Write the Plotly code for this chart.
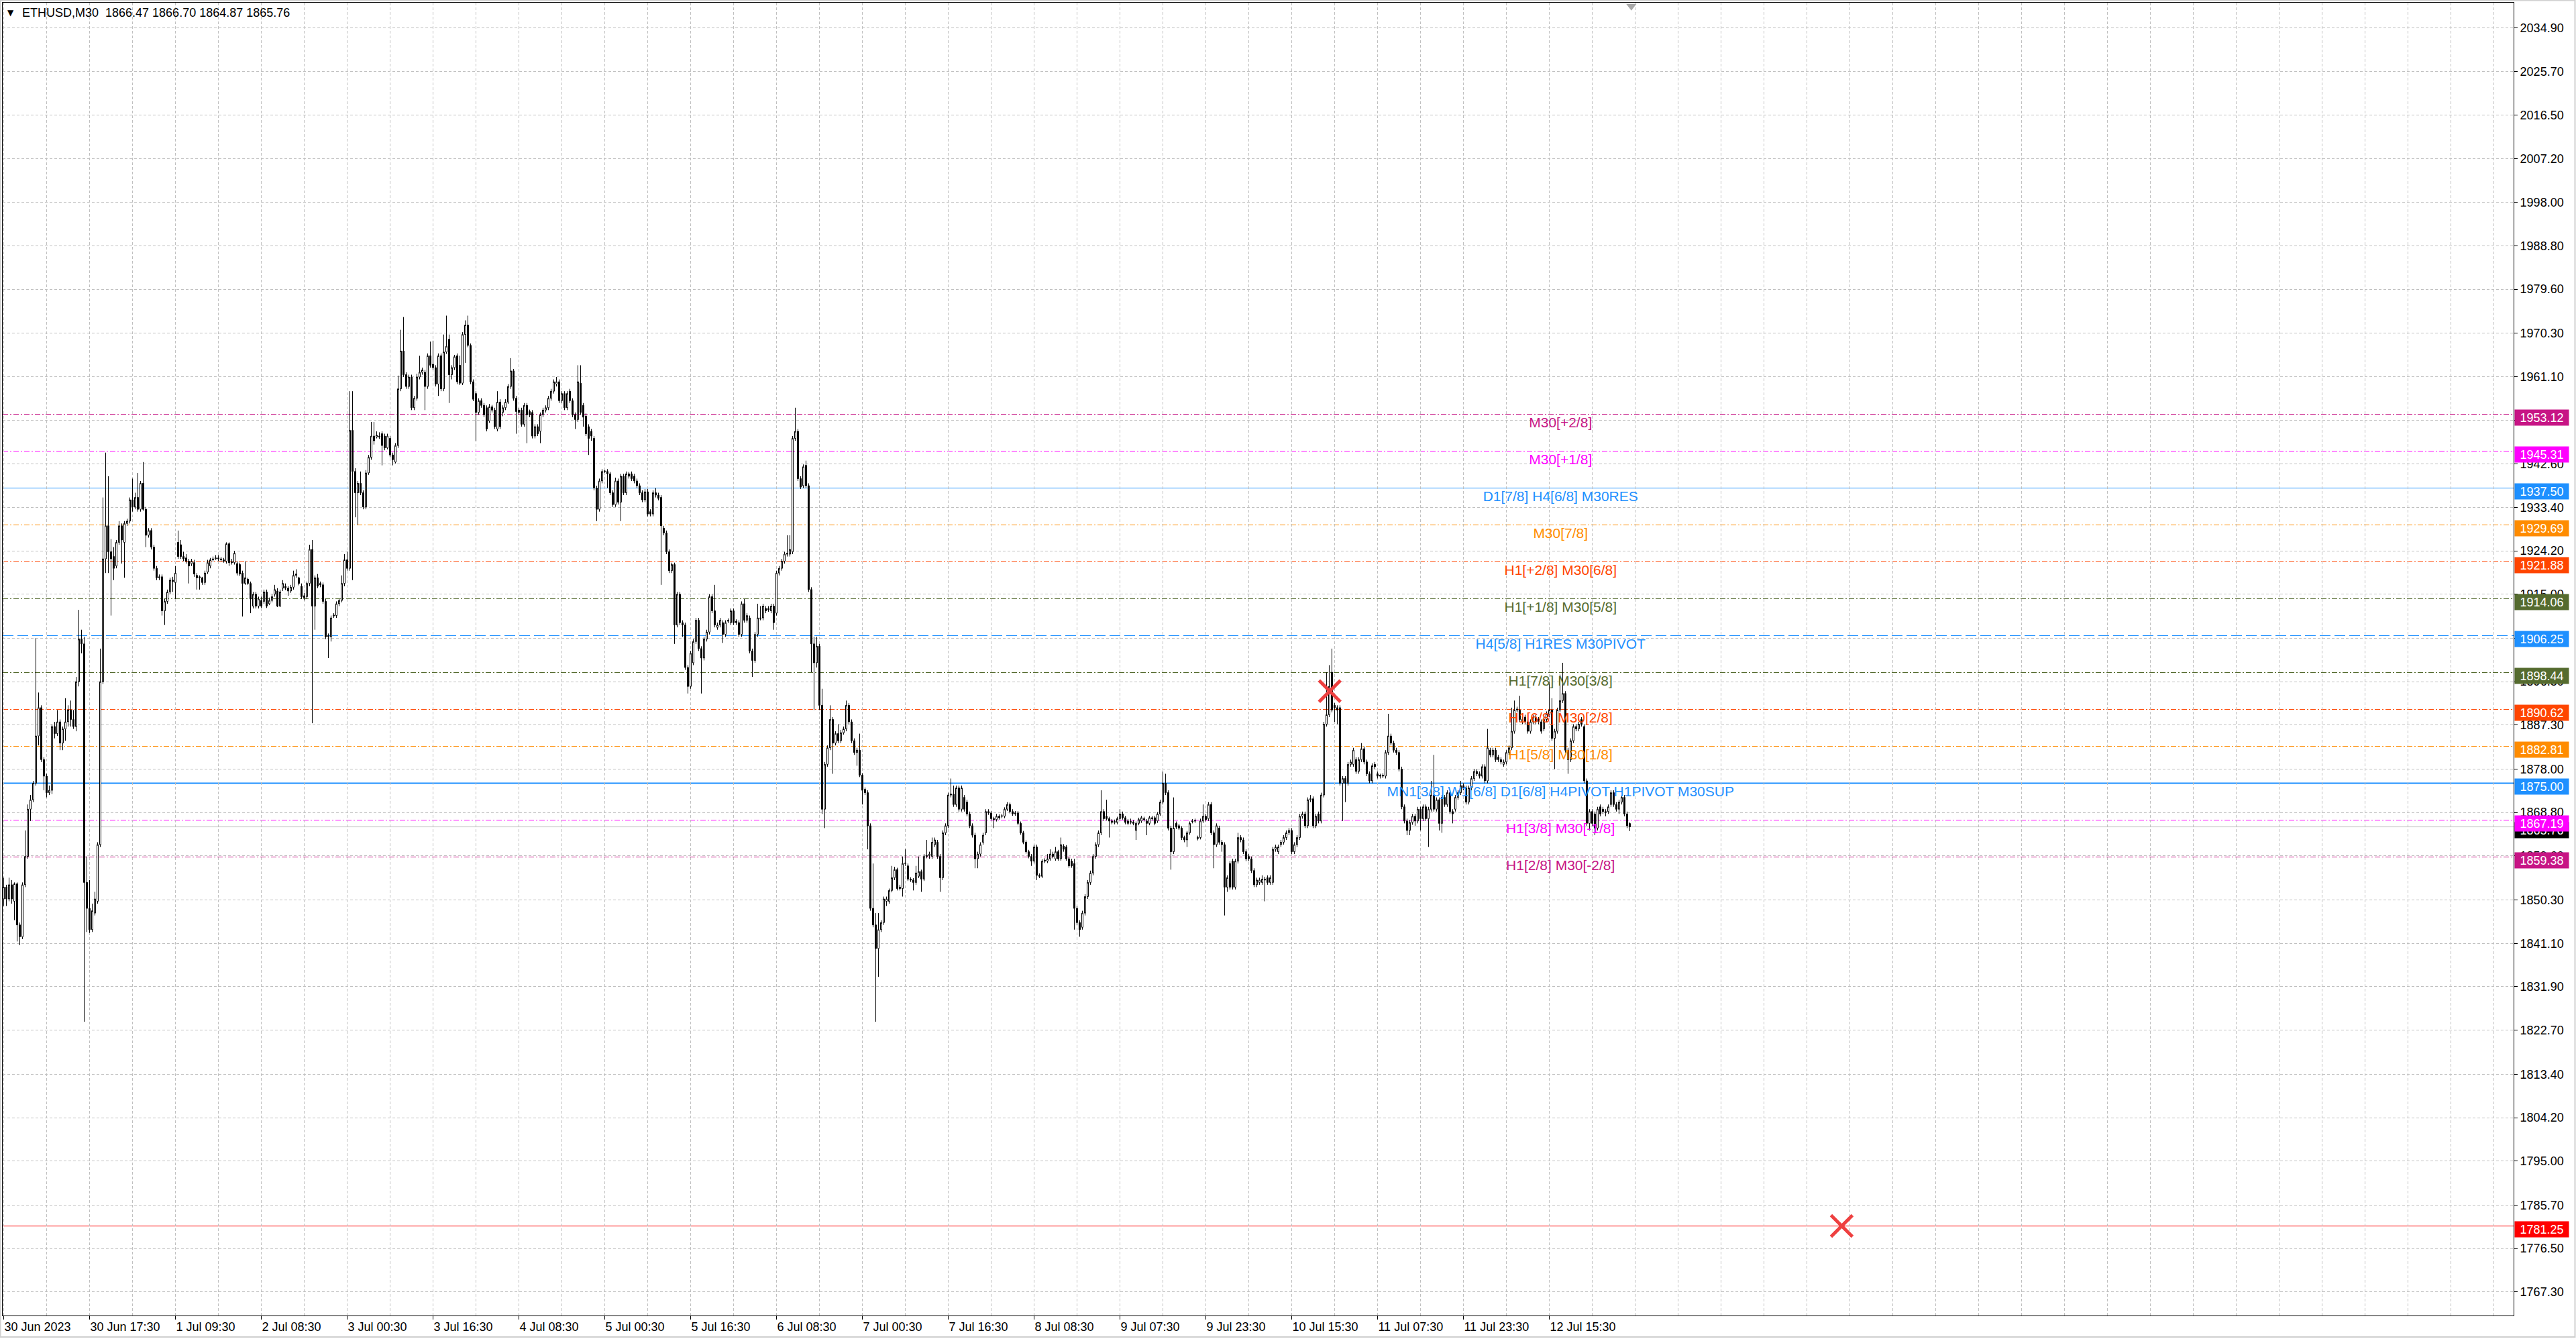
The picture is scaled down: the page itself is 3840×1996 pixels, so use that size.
import plotly.graph_objects as go

# ---------------- data (ETHUSD M30 candles) ----------------
bar_open = [
1850.5, 1853.0, 1850.5, 1853.5, 1850.0, 1853.7, 1845.0, 1842.5, 1853.5, 1859.5,
1869.5, 1871.5, 1875.0, 1885.0, 1891.0, 1880.0, 1876.5, 1873.0, 1873.5, 1887.0,
1885.5, 1888.0, 1883.5, 1886.5, 1888.0, 1890.5, 1888.5, 1887.0, 1896.5, 1905.5,
1904.5, 1854.0, 1848.5, 1844.0, 1847.5, 1850.0, 1862.0, 1896.5, 1922.5, 1929.5,
1924.0, 1923.0, 1921.0, 1926.0, 1929.5, 1926.0, 1930.0, 1930.5, 1935.0, 1933.5,
1935.5, 1933.0, 1938.5, 1933.0, 1927.5, 1928.5, 1925.0, 1920.5, 1918.5, 1918.7,
1911.5, 1913.5, 1915.5, 1918.0, 1917.5, 1926.0, 1925.5, 1923.0, 1922.7, 1922.0,
1921.5, 1921.7, 1919.0, 1918.7, 1918.5, 1917.5, 1919.7, 1921.0, 1922.3, 1922.5,
1922.7, 1922.5, 1922.3, 1922.0, 1925.7, 1921.9, 1921.7, 1921.5, 1921.3, 1919.5,
1917.3, 1918.2, 1917.3, 1912.5, 1915.0, 1912.5, 1913.7, 1913.5, 1915.5, 1913.0,
1913.7, 1915.0, 1915.7, 1912.5, 1916.3, 1916.7, 1916.3, 1915.7, 1916.5, 1919.0,
1918.5, 1916.7, 1914.7, 1914.5, 1917.3, 1924.5, 1912.5, 1918.5, 1917.3, 1917.0,
1913.5, 1906.3, 1906.0, 1910.4, 1910.5, 1913.0, 1913.7, 1917.3, 1922.3, 1920.5,
1949.7, 1941.0, 1936.5, 1938.5, 1936.5, 1933.5, 1940.7, 1944.0, 1948.5, 1948.3,
1948.5, 1949.0, 1948.5, 1946.0, 1948.0, 1944.5, 1943.0, 1946.5, 1958.5,
1966.5, 1961.5, 1959.0, 1961.0, 1954.5, 1956.5, 1961.0, 1962.0, 1962.0, 1959.0,
1965.5, 1963.7, 1963.0, 1959.5, 1965.5, 1958.5, 1966.3, 1969.0, 1961.5, 1963.0,
1965.5, 1963.5, 1959.7, 1970.0, 1972.0, 1967.7, 1960.0, 1957.5, 1953.5, 1956.0,
1955.0, 1954.5, 1951.7, 1954.7, 1954.0, 1950.0, 1955.7, 1953.5, 1954.5, 1955.7,
1959.0, 1962.3, 1956.5, 1954.0, 1954.0, 1951.0, 1955.0, 1953.7, 1953.5, 1948.5,
1950.5, 1949.5, 1953.0, 1954.0, 1954.5, 1956.5, 1958.0, 1959.5, 1960.0, 1956.0,
1957.5, 1954.5, 1958.0, 1956.0, 1953.0, 1952.0, 1959.7, 1955.0, 1952.7, 1950.5,
1949.5, 1948.0, 1937.5, 1933.0, 1939.0, 1941.0, 1941.0, 1940.5, 1936.5, 1934.0,
1939.0, 1934.5, 1940.0, 1936.5, 1940.5, 1940.5, 1940.0, 1939.0, 1938.0, 1936.5,
1935.0, 1936.7, 1932.5, 1932.0, 1936.5, 1936.0, 1935.5, 1929.0, 1928.0, 1924.0,
1920.0, 1921.3, 1908.5, 1915.0, 1909.0, 1908.5, 1899.5, 1895.5, 1900.5, 1905.0,
1909.5, 1903.5, 1901.5, 1905.5, 1907.0, 1914.5, 1911.5, 1908.0, 1908.5, 1909.0,
1906.5, 1909.5, 1909.0, 1911.5, 1909.3, 1909.0, 1906.5, 1913.0, 1909.5, 1910.0,
1903.0, 1901.0, 1906.5, 1910.0, 1910.0, 1912.0, 1912.0, 1911.5, 1912.5, 1911.0,
1919.5, 1920.5, 1922.0, 1923.7, 1923.5, 1924.0, 1948.0, 1949.5, 1939.5, 1938.0,
1942.3, 1938.0, 1916.0, 1904.5, 1900.5, 1904.0, 1891.5, 1869.5, 1879.0, 1882.5,
1888.5, 1883.5, 1885.5, 1884.0, 1885.7, 1886.5, 1891.5, 1888.0, 1884.0, 1881.5,
1882.0, 1876.7, 1873.7, 1873.0, 1866.0, 1848.5, 1845.0, 1840.0, 1844.0, 1845.5,
1850.0, 1850.0, 1852.3, 1855.0, 1856.7, 1853.0, 1852.7, 1858.0, 1857.5, 1854.7,
1854.5, 1854.0, 1855.3, 1856.3, 1854.7, 1859.5, 1859.7, 1859.5, 1862.0, 1862.5,
1859.5, 1855.0, 1864.5, 1866.0, 1872.5, 1872.7, 1870.5, 1874.0, 1869.5, 1872.0,
1871.0, 1868.5, 1866.0, 1864.0, 1859.0, 1860.0, 1862.5, 1864.5, 1869.0, 1868.7,
1867.5, 1867.3, 1868.0, 1868.0, 1868.0, 1869.5, 1870.5, 1869.0, 1868.5, 1868.7,
1866.5, 1864.5, 1862.5, 1860.5, 1859.5, 1858.5, 1861.5, 1855.5, 1855.3, 1858.7,
1858.5, 1859.0, 1860.0, 1859.0, 1860.5, 1859.0, 1861.7, 1861.5, 1859.0, 1858.5,
1858.0, 1848.5, 1845.5, 1844.5, 1847.5, 1851.0, 1854.0, 1856.0, 1859.5, 1862.0,
1864.5, 1869.0, 1868.0, 1867.5, 1867.0, 1866.7, 1866.7, 1867.5, 1868.5, 1867.7,
1867.0, 1866.7, 1866.8, 1865.0, 1866.5, 1867.0, 1867.5, 1867.0, 1866.5, 1867.7,
1867.7, 1867.0, 1868.5, 1871.0, 1875.0, 1873.0, 1865.5, 1860.5, 1866.5, 1866.0,
1865.5, 1863.5, 1863.0, 1864.5, 1867.0, 1867.1, 1863.5, 1863.5, 1867.0, 1868.0,
1867.5, 1870.5, 1864.5, 1862.0, 1865.5, 1862.5, 1862.0, 1853.0, 1858.0, 1858.5,
1853.0, 1858.5, 1863.5, 1863.0, 1860.5, 1859.5, 1859.0, 1856.5, 1853.5, 1854.0,
1854.0, 1854.5, 1855.0, 1854.0, 1854.0, 1861.0, 1860.5, 1862.0, 1862.5, 1863.5,
1864.5, 1865.0, 1860.5, 1862.0, 1863.5, 1868.0, 1868.5, 1866.0, 1871.5, 1871.7,
1866.0, 1868.5, 1867.0, 1872.5, 1887.5, 1889.5, 1898.5, 1891.5, 1891.0, 1891.0,
1875.0, 1876.0, 1875.0, 1879.0, 1879.0, 1880.0, 1877.5, 1880.0, 1882.3, 1879.5,
1877.0, 1875.5, 1879.0, 1877.0, 1876.7, 1876.5, 1876.5, 1881.5, 1885.0, 1883.5,
1882.0, 1881.5, 1878.0, 1870.0, 1867.0, 1865.0, 1866.7, 1868.0, 1867.0, 1869.5,
1867.5, 1870.0, 1867.5, 1869.5, 1872.5, 1869.5, 1871.5, 1866.5, 1872.0, 1870.5,
1873.0, 1869.0, 1869.5, 1872.0, 1873.0, 1874.5, 1874.0, 1871.0, 1874.0, 1876.0,
1877.5, 1877.0, 1876.5, 1878.5, 1875.5, 1882.0, 1881.0, 1882.0, 1880.5, 1880.0,
1879.0, 1879.5, 1881.5, 1882.5, 1886.0, 1890.5, 1890.5, 1888.5, 1889.0, 1888.0,
1886.0, 1888.0, 1889.0, 1888.5, 1888.0, 1886.5, 1888.5, 1889.5, 1890.5, 1884.5,
1886.0, 1890.5, 1892.5, 1894.0, 1882.0, 1880.0, 1884.0, 1887.0, 1886.5, 1888.5,
1887.0, 1875.5, 1866.5, 1869.0, 1868.5, 1865.5, 1870.0, 1869.5, 1869.0, 1869.0,
1870.5, 1873.0, 1870.5, 1869.5, 1871.0, 1872.0, 1868.5, 1866.47,
]

bar_high = [
1855.0, 1853.5, 1855.0, 1854.5, 1854.0, 1854.0, 1845.5, 1854.0, 1865.0, 1870.5,
1872.5, 1875.5, 1905.7, 1894.2, 1891.5, 1880.5, 1877.0, 1874.5, 1887.5, 1888.0,
1890.5, 1888.5, 1887.0, 1893.0, 1891.5, 1892.5, 1890.5, 1897.5, 1911.7, 1907.5,
1906.0, 1859.5, 1854.5, 1849.5, 1852.0, 1862.5, 1903.5, 1935.5, 1945.0, 1940.0,
1926.7, 1925.0, 1926.5, 1930.5, 1930.0, 1930.5, 1931.0, 1935.5, 1939.5, 1936.5,
1940.7, 1939.0, 1943.0, 1933.5, 1929.0, 1929.0, 1925.5, 1921.0, 1919.2, 1919.2,
1914.0, 1916.0, 1918.5, 1918.7, 1921.0, 1928.5, 1926.5, 1924.0, 1923.5, 1922.5,
1922.5, 1922.3, 1919.5, 1919.0, 1918.7, 1920.0, 1922.3, 1922.7, 1923.0, 1923.3,
1923.3, 1922.9, 1922.7, 1926.0, 1926.0, 1922.5, 1924.2, 1922.0, 1921.7, 1920.0,
1922.0, 1918.5, 1917.7, 1915.5, 1915.5, 1914.5, 1914.5, 1916.0, 1916.0, 1914.3,
1915.0, 1917.0, 1916.3, 1916.0, 1918.0, 1917.3, 1916.7, 1917.0, 1920.0, 1920.3,
1918.7, 1917.3, 1915.3, 1917.7, 1925.5, 1926.5, 1919.0, 1919.3, 1917.7, 1917.5,
1914.0, 1906.7, 1910.5, 1911.0, 1913.5, 1914.0, 1919.0, 1923.5, 1924.0, 1958.0,
1958.0, 1941.7, 1939.0, 1941.0, 1937.0, 1941.3, 1944.5, 1951.5, 1951.5, 1949.5,
1949.3, 1949.5, 1949.0, 1949.0, 1948.5, 1945.0, 1947.0, 1961.3, 1971.0,
1973.7, 1962.0, 1961.5, 1961.5, 1957.0, 1961.7, 1965.5, 1963.0, 1962.5, 1966.0,
1968.5, 1968.7, 1963.5, 1966.0, 1966.0, 1970.0, 1974.0, 1970.0, 1963.5, 1965.7,
1966.0, 1965.5, 1970.5, 1973.0, 1974.0, 1968.1, 1960.5, 1958.0, 1956.5, 1956.5,
1955.5, 1955.0, 1955.3, 1955.1, 1954.5, 1958.0, 1956.3, 1955.0, 1956.3, 1959.5,
1965.0, 1962.7, 1957.0, 1954.5, 1954.5, 1955.5, 1955.5, 1954.1, 1954.0, 1951.0,
1951.0, 1953.5, 1954.5, 1955.0, 1957.0, 1958.5, 1960.5, 1961.0, 1960.5, 1958.0,
1958.0, 1958.0, 1958.5, 1956.5, 1953.5, 1963.5, 1963.5, 1955.5, 1953.3, 1951.0,
1950.0, 1948.5, 1938.0, 1939.5, 1941.5, 1941.3, 1941.5, 1940.9, 1937.0, 1939.7,
1939.5, 1940.5, 1940.5, 1941.0, 1940.9, 1941.0, 1940.5, 1939.5, 1938.5, 1937.0,
1937.3, 1937.3, 1933.0, 1937.0, 1937.5, 1936.5, 1936.0, 1929.5, 1928.5, 1924.5,
1921.7, 1921.7, 1915.5, 1915.5, 1909.5, 1909.0, 1900.0, 1903.0, 1905.5, 1910.0,
1910.0, 1904.0, 1906.0, 1907.5, 1915.0, 1915.0, 1917.0, 1909.0, 1910.0, 1909.5,
1909.5, 1909.9, 1912.0, 1912.0, 1909.7, 1909.5, 1913.5, 1914.0, 1911.0, 1910.5,
1903.5, 1907.0, 1913.0, 1912.5, 1913.0, 1912.5, 1912.5, 1913.0, 1913.0, 1920.0,
1921.0, 1922.5, 1924.0, 1927.5, 1927.5, 1948.5, 1954.5, 1950.0, 1940.0, 1942.5,
1943.3, 1938.5, 1916.5, 1906.0, 1906.0, 1904.5, 1895.0, 1879.5, 1883.0, 1891.5,
1889.0, 1886.0, 1887.5, 1886.3, 1887.0, 1892.5, 1892.0, 1888.5, 1884.5, 1882.5,
1885.5, 1877.1, 1874.1, 1873.5, 1866.5, 1858.0, 1847.5, 1847.5, 1846.0, 1851.0,
1851.0, 1852.7, 1857.5, 1857.3, 1857.1, 1853.5, 1859.5, 1861.0, 1858.0, 1855.1,
1854.9, 1857.5, 1859.5, 1856.7, 1860.0, 1863.0, 1860.5, 1863.5, 1863.5, 1863.0,
1860.0, 1865.0, 1866.5, 1873.0, 1876.0, 1874.5, 1874.5, 1874.5, 1874.5, 1872.5,
1871.5, 1869.0, 1866.5, 1864.5, 1860.5, 1862.5, 1864.5, 1869.5, 1869.5, 1869.1,
1867.9, 1868.5, 1868.4, 1868.5, 1869.9, 1871.0, 1870.9, 1869.5, 1869.1, 1869.1,
1866.9, 1864.9, 1862.9, 1860.9, 1860.0, 1862.0, 1862.0, 1855.9, 1858.9, 1859.1,
1860.0, 1861.0, 1860.5, 1861.5, 1860.9, 1863.5, 1862.1, 1861.9, 1859.4, 1859.0,
1859.0, 1849.0, 1846.0, 1848.0, 1851.5, 1854.5, 1856.5, 1860.0, 1862.5, 1865.0,
1873.5, 1869.5, 1871.5, 1867.9, 1867.4, 1867.3, 1867.9, 1869.5, 1869.0, 1868.1,
1867.4, 1867.5, 1867.2, 1866.9, 1867.7, 1868.1, 1867.9, 1867.4, 1868.1, 1868.1,
1868.1, 1868.9, 1871.5, 1877.5, 1877.0, 1873.5, 1866.0, 1872.0, 1866.9, 1866.4,
1865.9, 1863.9, 1864.9, 1866.9, 1867.4, 1867.5, 1863.9, 1867.5, 1870.5, 1868.5,
1871.0, 1871.0, 1865.0, 1866.5, 1866.0, 1863.0, 1862.5, 1855.5, 1858.5, 1859.0,
1859.0, 1864.5, 1864.0, 1863.5, 1861.0, 1860.0, 1859.5, 1857.0, 1855.0, 1855.0,
1855.5, 1855.2, 1855.5, 1855.5, 1861.5, 1862.0, 1862.0, 1863.0, 1864.0, 1865.0,
1865.5, 1865.5, 1862.5, 1864.0, 1868.5, 1869.0, 1869.0, 1872.0, 1872.5, 1872.2,
1868.5, 1869.0, 1873.0, 1888.0, 1898.5, 1900.0, 1903.5, 1892.0, 1891.5, 1891.5,
1876.5, 1876.5, 1879.5, 1880.0, 1882.5, 1880.5, 1880.5, 1883.5, 1882.8, 1880.0,
1877.5, 1879.2, 1879.5, 1877.5, 1877.0, 1877.1, 1882.0, 1889.7, 1885.5, 1884.0,
1882.5, 1882.0, 1878.5, 1870.5, 1867.5, 1867.2, 1868.5, 1868.5, 1870.0, 1870.0,
1870.5, 1870.5, 1870.0, 1875.5, 1881.0, 1872.0, 1872.0, 1872.5, 1872.5, 1873.5,
1873.5, 1869.5, 1872.5, 1873.5, 1875.5, 1875.0, 1874.5, 1874.5, 1876.5, 1878.0,
1878.0, 1877.5, 1879.0, 1879.0, 1886.5, 1882.5, 1882.5, 1882.5, 1881.0, 1880.5,
1880.0, 1882.0, 1883.0, 1891.0, 1892.5, 1891.2, 1893.5, 1889.0, 1889.5, 1888.5,
1888.5, 1889.5, 1889.5, 1889.0, 1888.5, 1889.0, 1890.2, 1896.5, 1893.0, 1886.5,
1891.0, 1898.0, 1900.5, 1894.5, 1882.5, 1884.5, 1887.5, 1887.5, 1888.0, 1889.0,
1887.5, 1876.0, 1869.5, 1869.5, 1869.0, 1870.0, 1870.5, 1870.0, 1869.5, 1870.5,
1873.5, 1873.5, 1871.0, 1871.5, 1872.5, 1872.5, 1869.0, 1866.70,
]

bar_low = [
1849.0, 1849.0, 1850.0, 1849.5, 1846.0, 1841.5, 1840.7, 1842.0, 1853.0, 1859.0,
1867.0, 1871.0, 1874.5, 1883.0, 1879.5, 1873.5, 1872.0, 1872.5, 1872.7, 1884.5,
1885.0, 1882.0, 1882.0, 1884.0, 1887.0, 1887.0, 1886.5, 1886.0, 1895.5, 1902.5,
1824.5, 1843.5, 1843.3, 1843.5, 1847.0, 1849.5, 1861.5, 1896.0, 1919.5, 1919.5,
1910.5, 1918.0, 1920.5, 1925.5, 1921.5, 1918.5, 1929.5, 1930.0, 1932.5, 1933.0,
1932.5, 1932.5, 1932.7, 1925.0, 1927.0, 1924.5, 1920.0, 1918.0, 1918.0, 1910.5,
1908.5, 1913.0, 1915.0, 1915.5, 1914.0, 1922.5, 1922.5, 1922.0, 1921.5, 1917.3,
1921.0, 1918.7, 1916.0, 1916.0, 1917.0, 1917.0, 1919.3, 1920.5, 1921.9, 1922.3,
1922.0, 1921.9, 1921.7, 1921.5, 1921.0, 1921.3, 1921.3, 1919.0, 1918.9, 1910.3,
1917.0, 1917.0, 1911.0, 1912.0, 1912.0, 1912.0, 1912.1, 1913.0, 1912.1, 1912.7,
1913.3, 1914.5, 1912.3, 1912.3, 1915.7, 1915.9, 1914.7, 1915.3, 1916.0, 1918.5,
1916.9, 1914.0, 1913.7, 1914.0, 1916.7, 1887.7, 1907.5, 1916.3, 1916.5, 1913.0,
1905.5, 1901.5, 1905.0, 1910.0, 1910.0, 1912.5, 1913.3, 1916.7, 1920.0, 1920.0,
1918.0, 1931.3, 1929.7, 1936.0, 1933.0, 1933.0, 1940.3, 1943.5, 1946.7, 1948.0,
1947.9, 1942.3, 1945.5, 1945.7, 1944.0, 1942.3, 1942.7, 1946.0, 1958.0,
1961.0, 1958.5, 1958.5, 1954.0, 1954.0, 1956.0, 1960.5, 1961.5, 1954.0, 1958.5,
1963.0, 1962.5, 1959.0, 1957.0, 1958.0, 1958.0, 1965.9, 1955.5, 1960.5, 1962.5,
1959.5, 1959.3, 1959.3, 1964.0, 1967.3, 1959.5, 1955.9, 1947.5, 1953.0, 1954.5,
1952.5, 1949.5, 1951.3, 1953.5, 1950.0, 1949.5, 1950.0, 1952.7, 1954.0, 1955.3,
1958.5, 1956.0, 1949.0, 1953.0, 1950.5, 1950.5, 1947.0, 1952.5, 1948.0, 1948.0,
1948.5, 1947.0, 1952.5, 1953.5, 1954.0, 1956.0, 1957.5, 1959.0, 1955.5, 1955.5,
1954.0, 1954.0, 1955.5, 1952.5, 1950.0, 1951.5, 1953.0, 1950.5, 1948.5, 1944.5,
1947.5, 1937.0, 1930.5, 1932.5, 1938.5, 1940.7, 1937.5, 1936.0, 1933.5, 1933.5,
1934.0, 1930.5, 1936.0, 1936.0, 1939.5, 1939.0, 1938.5, 1937.5, 1936.0, 1934.5,
1934.5, 1931.5, 1931.5, 1931.5, 1935.5, 1934.9, 1917.0, 1927.5, 1923.5, 1919.5,
1919.5, 1904.5, 1908.0, 1908.5, 1906.0, 1899.0, 1894.0, 1895.0, 1900.0, 1904.5,
1903.0, 1894.0, 1901.0, 1905.0, 1906.5, 1911.0, 1908.0, 1907.5, 1908.0, 1904.7,
1906.0, 1908.9, 1908.5, 1908.5, 1908.5, 1906.0, 1906.0, 1909.0, 1909.0, 1902.5,
1897.5, 1900.5, 1906.0, 1909.5, 1909.5, 1911.0, 1911.3, 1911.0, 1907.5, 1910.5,
1919.0, 1920.0, 1921.5, 1923.0, 1923.0, 1923.5, 1947.5, 1939.0, 1937.3, 1937.5,
1937.5, 1915.5, 1898.5, 1890.5, 1899.5, 1890.5, 1868.5, 1865.5, 1878.5, 1882.0,
1877.0, 1883.0, 1883.5, 1883.5, 1885.3, 1886.0, 1887.5, 1883.5, 1881.0, 1878.7,
1876.3, 1870.5, 1872.5, 1861.0, 1848.0, 1844.5, 1824.5, 1834.0, 1843.5, 1845.0,
1849.0, 1849.5, 1851.9, 1854.5, 1852.3, 1852.3, 1851.0, 1857.5, 1854.3, 1854.1,
1852.3, 1853.5, 1854.9, 1852.0, 1854.3, 1859.1, 1859.0, 1859.0, 1861.5, 1859.0,
1852.0, 1854.5, 1864.0, 1865.5, 1872.0, 1870.0, 1870.0, 1869.0, 1869.0, 1869.0,
1868.0, 1865.5, 1863.5, 1857.0, 1857.0, 1859.5, 1862.0, 1864.0, 1868.3, 1867.1,
1865.5, 1866.9, 1867.3, 1867.6, 1867.6, 1869.1, 1868.6, 1868.1, 1868.1, 1866.1,
1864.1, 1862.1, 1860.1, 1859.1, 1857.5, 1858.0, 1854.5, 1854.9, 1854.9, 1858.1,
1858.1, 1858.6, 1859.1, 1858.6, 1858.6, 1858.6, 1860.5, 1858.6, 1857.1, 1857.1,
1844.0, 1845.0, 1842.5, 1844.0, 1847.0, 1850.5, 1853.5, 1855.5, 1859.0, 1861.5,
1864.0, 1867.0, 1867.1, 1863.5, 1866.3, 1866.3, 1866.3, 1867.1, 1867.3, 1866.3,
1866.1, 1866.3, 1866.1, 1863.0, 1866.1, 1866.6, 1866.9, 1864.0, 1866.1, 1867.1,
1866.1, 1866.6, 1868.1, 1870.5, 1872.5, 1865.0, 1856.7, 1860.0, 1865.3, 1865.1,
1863.0, 1862.5, 1861.5, 1864.1, 1866.5, 1866.6, 1862.9, 1863.1, 1866.6, 1866.9,
1867.0, 1864.0, 1857.0, 1861.5, 1862.0, 1860.5, 1847.0, 1852.0, 1852.5, 1852.5,
1852.5, 1858.0, 1862.5, 1860.0, 1858.5, 1858.5, 1856.0, 1853.0, 1853.0, 1853.5,
1853.5, 1850.0, 1853.5, 1853.5, 1853.5, 1860.5, 1860.0, 1861.5, 1862.0, 1863.0,
1864.0, 1860.0, 1860.0, 1861.5, 1863.0, 1867.5, 1865.5, 1865.5, 1871.0, 1865.5,
1865.5, 1866.5, 1866.5, 1872.0, 1887.0, 1889.0, 1890.0, 1888.0, 1887.5, 1874.5,
1867.0, 1871.0, 1874.5, 1878.5, 1878.5, 1877.0, 1877.0, 1879.5, 1879.0, 1876.5,
1875.0, 1875.0, 1878.0, 1876.0, 1876.0, 1876.1, 1876.0, 1881.0, 1883.0, 1881.5,
1881.0, 1877.5, 1869.5, 1866.5, 1864.0, 1864.0, 1866.2, 1866.0, 1866.5, 1865.0,
1867.0, 1867.0, 1861.5, 1869.0, 1869.0, 1869.0, 1865.0, 1864.5, 1870.0, 1870.0,
1868.5, 1866.5, 1869.0, 1871.5, 1872.5, 1873.5, 1870.5, 1870.5, 1873.5, 1875.5,
1876.5, 1876.0, 1876.0, 1875.0, 1875.0, 1880.5, 1880.5, 1879.5, 1879.5, 1879.0,
1878.5, 1879.0, 1881.0, 1882.0, 1885.5, 1890.0, 1888.0, 1887.5, 1887.5, 1885.5,
1885.5, 1887.5, 1887.5, 1887.5, 1885.5, 1886.0, 1888.0, 1889.0, 1884.0, 1878.0,
1885.5, 1890.0, 1892.0, 1881.5, 1877.0, 1879.5, 1883.5, 1886.0, 1886.0, 1887.0,
1875.0, 1866.0, 1865.0, 1866.0, 1864.0, 1865.0, 1868.0, 1868.5, 1868.0, 1868.5,
1870.0, 1870.0, 1869.0, 1868.5, 1870.5, 1868.0, 1865.5, 1864.87,
]

bar_close = [
1853.0, 1850.5, 1853.5, 1850.5, 1853.7, 1845.0, 1842.5, 1853.5, 1859.5, 1869.5,
1871.5, 1875.0, 1885.0, 1891.0, 1880.0, 1876.5, 1873.0, 1873.5, 1887.0, 1885.5,
1888.0, 1883.5, 1886.5, 1888.0, 1890.5, 1888.5, 1887.0, 1896.5, 1905.5, 1904.5,
1854.0, 1848.5, 1844.0, 1848.0, 1850.5, 1862.0, 1896.5, 1922.5, 1929.5, 1924.0,
1922.5, 1920.5, 1926.0, 1929.5, 1926.5, 1930.0, 1930.5, 1935.0, 1933.5, 1935.5,
1933.0, 1938.5, 1933.0, 1927.5, 1928.5, 1925.0, 1920.5, 1918.5, 1918.7, 1911.5,
1913.5, 1915.5, 1918.0, 1917.7, 1919.5, 1923.0, 1923.0, 1922.5, 1922.0, 1921.0,
1922.0, 1919.3, 1918.5, 1918.5, 1917.5, 1919.5, 1921.7, 1922.3, 1922.5, 1922.7,
1922.5, 1922.3, 1922.0, 1925.7, 1921.7, 1921.7, 1923.7, 1919.5, 1919.3, 1917.3,
1918.5, 1917.3, 1914.0, 1915.0, 1912.5, 1914.0, 1912.5, 1915.5, 1912.5, 1913.7,
1914.5, 1916.0, 1912.5, 1915.5, 1917.3, 1916.3, 1915.7, 1916.5, 1919.0, 1919.3,
1917.3, 1914.5, 1914.3, 1917.3, 1924.5, 1912.5, 1918.5, 1916.7, 1917.0, 1913.5,
1906.0, 1906.0, 1910.0, 1910.6, 1913.0, 1913.7, 1917.3, 1922.3, 1920.5, 1949.7,
1941.0, 1936.5, 1938.5, 1936.5, 1933.5, 1940.7, 1944.0, 1948.5, 1947.5, 1948.7,
1948.3, 1946.5, 1946.0, 1948.5, 1944.5, 1943.5, 1946.5, 1958.5, 1966.5,
1961.5, 1959.0, 1961.0, 1954.5, 1956.5, 1961.0, 1962.0, 1962.5, 1959.0, 1965.5,
1963.5, 1963.0, 1959.5, 1965.5, 1958.5, 1966.3, 1967.5, 1961.5, 1963.0, 1965.3,
1960.0, 1959.7, 1970.0, 1972.0, 1967.7, 1960.0, 1956.3, 1953.5, 1956.0, 1955.0,
1953.0, 1950.0, 1954.7, 1954.0, 1950.5, 1955.7, 1950.5, 1954.5, 1955.7, 1959.0,
1962.3, 1956.5, 1953.7, 1953.5, 1951.0, 1955.0, 1953.0, 1953.0, 1948.5, 1950.5,
1949.0, 1953.0, 1954.0, 1954.5, 1956.5, 1958.0, 1960.0, 1960.0, 1956.0, 1957.5,
1954.5, 1957.5, 1956.0, 1953.0, 1952.0, 1960.0, 1953.5, 1952.5, 1949.0, 1948.0,
1948.5, 1937.5, 1933.0, 1939.0, 1941.0, 1941.1, 1940.5, 1936.5, 1934.0, 1939.0,
1934.5, 1940.0, 1936.5, 1940.5, 1940.0, 1939.5, 1939.0, 1938.0, 1936.5, 1935.0,
1936.7, 1932.0, 1932.0, 1936.5, 1936.0, 1935.3, 1929.5, 1928.0, 1924.0, 1920.0,
1921.3, 1908.5, 1915.0, 1909.0, 1908.5, 1899.5, 1895.5, 1902.5, 1905.0, 1909.5,
1903.5, 1901.5, 1905.5, 1907.0, 1914.5, 1911.5, 1908.5, 1908.5, 1909.5, 1906.5,
1909.0, 1909.3, 1911.5, 1909.0, 1909.0, 1906.5, 1913.0, 1909.5, 1910.5, 1903.0,
1901.0, 1906.5, 1910.0, 1909.9, 1912.5, 1911.5, 1911.7, 1912.5, 1909.0, 1919.5,
1920.5, 1922.0, 1923.5, 1923.5, 1924.5, 1948.0, 1949.5, 1939.5, 1937.7, 1942.0,
1938.0, 1916.0, 1904.5, 1900.5, 1904.0, 1891.5, 1869.5, 1879.0, 1882.5, 1888.5,
1883.5, 1885.5, 1884.0, 1885.7, 1886.5, 1891.5, 1888.0, 1884.0, 1881.5, 1882.0,
1876.7, 1873.5, 1873.0, 1866.0, 1848.5, 1845.0, 1840.0, 1844.0, 1845.5, 1850.5,
1850.5, 1852.3, 1855.0, 1856.7, 1852.7, 1852.7, 1858.0, 1858.1, 1854.7, 1854.5,
1854.0, 1856.0, 1856.3, 1854.7, 1859.5, 1859.7, 1860.0, 1862.5, 1863.0, 1859.5,
1855.0, 1864.5, 1866.0, 1872.5, 1872.7, 1870.5, 1874.0, 1869.5, 1874.0, 1869.5,
1868.5, 1866.0, 1864.0, 1859.0, 1860.0, 1862.0, 1864.0, 1869.0, 1868.7, 1867.5,
1867.3, 1868.0, 1867.7, 1868.1, 1869.5, 1870.5, 1869.0, 1868.5, 1868.7, 1866.5,
1864.5, 1862.5, 1860.5, 1859.5, 1858.5, 1861.5, 1855.5, 1855.3, 1858.5, 1858.5,
1859.0, 1860.0, 1859.5, 1860.5, 1859.0, 1862.0, 1861.0, 1859.0, 1857.5, 1857.5,
1848.5, 1845.5, 1844.0, 1847.5, 1851.0, 1854.0, 1856.0, 1859.5, 1862.0, 1864.5,
1869.0, 1867.5, 1867.5, 1867.0, 1866.7, 1866.9, 1867.5, 1868.5, 1867.7, 1866.7,
1866.5, 1866.9, 1866.5, 1866.5, 1867.3, 1867.7, 1867.3, 1866.5, 1867.7, 1867.5,
1866.5, 1868.5, 1871.0, 1875.0, 1873.0, 1865.5, 1860.5, 1865.5, 1865.7, 1865.5,
1863.5, 1863.0, 1864.5, 1866.5, 1866.9, 1867.0, 1863.3, 1867.0, 1868.0, 1867.3,
1870.5, 1864.5, 1862.0, 1866.0, 1862.5, 1862.0, 1853.0, 1855.0, 1853.0, 1853.0,
1858.5, 1863.5, 1863.0, 1860.5, 1859.0, 1859.0, 1856.5, 1853.5, 1854.5, 1854.5,
1854.7, 1854.7, 1854.0, 1855.0, 1861.0, 1861.5, 1861.5, 1862.5, 1863.5, 1864.5,
1865.0, 1860.5, 1862.0, 1863.5, 1868.0, 1868.5, 1866.0, 1871.5, 1871.7, 1866.0,
1868.0, 1867.0, 1872.5, 1887.5, 1889.5, 1895.5, 1890.5, 1891.0, 1890.5, 1875.0,
1876.0, 1875.0, 1879.0, 1879.5, 1882.0, 1877.5, 1880.0, 1882.3, 1879.5, 1877.0,
1875.5, 1878.7, 1878.5, 1876.5, 1876.5, 1876.7, 1881.5, 1885.0, 1883.5, 1882.0,
1881.5, 1878.0, 1870.0, 1867.0, 1865.0, 1866.7, 1868.0, 1867.0, 1869.5, 1867.5,
1870.0, 1867.5, 1869.5, 1872.5, 1869.5, 1871.5, 1866.5, 1872.0, 1870.5, 1873.0,
1869.0, 1868.5, 1872.0, 1873.0, 1874.5, 1874.0, 1871.0, 1874.0, 1876.0, 1877.5,
1877.0, 1876.5, 1878.5, 1875.5, 1882.5, 1881.0, 1882.0, 1880.0, 1880.0, 1879.5,
1879.5, 1881.5, 1882.5, 1886.0, 1890.5, 1890.7, 1888.5, 1888.0, 1888.0, 1886.0,
1888.0, 1889.0, 1888.0, 1888.0, 1886.0, 1888.5, 1889.7, 1890.5, 1884.5, 1886.0,
1890.5, 1892.5, 1894.0, 1882.0, 1880.0, 1884.0, 1887.0, 1886.5, 1887.5, 1887.5,
1875.5, 1866.5, 1869.0, 1866.5, 1865.5, 1869.5, 1868.5, 1869.0, 1868.8, 1870.0,
1873.0, 1870.5, 1869.5, 1871.0, 1872.0, 1868.5, 1866.0, 1865.76,
]

x_tick_bars = [0, 32, 64, 96, 128, 160, 192, 224, 256, 288, 320, 352, 384, 416,
               448, 480, 512, 544, 576]
x_tick_labels = ["30 Jun 2023", "30 Jun 17:30", "1 Jul 09:30", "2 Jul 08:30",
                 "3 Jul 00:30", "3 Jul 16:30", "4 Jul 08:30", "5 Jul 00:30",
                 "5 Jul 16:30", "6 Jul 08:30", "7 Jul 00:30", "7 Jul 16:30",
                 "8 Jul 08:30", "9 Jul 07:30", "9 Jul 23:30", "10 Jul 15:30",
                 "11 Jul 07:30", "11 Jul 23:30", "12 Jul 15:30"]

y_tick_values = [2034.9, 2025.7, 2016.5, 2007.2, 1998.0, 1988.8, 1979.6, 1970.3,
                 1961.1, 1951.9, 1942.6, 1933.4, 1924.2, 1915.0, 1905.7, 1896.5,
                 1887.3, 1878.0, 1868.8, 1859.6, 1850.3, 1841.1, 1831.9, 1822.7,
                 1813.4, 1804.2, 1795.0, 1785.7, 1776.5, 1767.3]

level_values = [1953.12, 1945.31, 1937.50, 1929.69, 1921.88, 1914.06, 1906.25,
                1898.44, 1890.62, 1882.81, 1875.00, 1867.19, 1859.38]
level_names = ["M30[+2/8]", "M30[+1/8]", "D1[7/8] H4[6/8] M30RES", "M30[7/8]",
               "H1[+2/8] M30[6/8]", "H1[+1/8] M30[5/8]", "H4[5/8] H1RES M30PIVOT",
               "H1[7/8] M30[3/8]", "H1[6/8] M30[2/8]", "H1[5/8] M30[1/8]",
               "MN1[3/8] W1[6/8] D1[6/8] H4PIVOT H1PIVOT M30SUP",
               "H1[3/8] M30[-1/8]", "H1[2/8] M30[-2/8]"]
level_colors = ["#C71585", "#FF00FF", "#1E90FF", "#FF8C00", "#FF4500", "#556B2F",
                "#1E90FF", "#556B2F", "#FF4500", "#FF8C00", "#1E90FF", "#FF00FF",
                "#C71585"]
level_dash = ["dashdot", "dashdot", "solid", "dashdot", "dashdot", "dashdot", "dash",
              "dashdot", "dashdot", "dashdot", "solid", "dashdot", "dashdot"]
level_width = [1, 1, 1, 1, 1, 1, 1, 1, 1, 1, 2, 1, 1]

target_level = 1781.25
bid_price = 1865.76
x_marks_bar = [494.2, 685.0]
x_marks_price = [1894.5, 1781.25]

header_text = "ETHUSD,M30  1866.47 1866.70 1864.87 1865.76"

# ---------------- figure ----------------
FONT = "Liberation Sans, Arial, sans-serif"
GRID = "#C0C0C0"
DASH_MAP = {"dashdot": "8px,3px,2px,3px", "dash": "16px,6px", "solid": "solid"}

fig = go.Figure()

# level labels (drawn first so candles sit on top of them)
fig.add_trace(go.Scatter(
    x=[580.2] * len(level_values), y=level_values, mode="markers+text",
    text=level_names, textposition="bottom center",
    marker=dict(size=4, color="rgba(0,0,0,0)"),
    textfont=dict(family=FONT, size=21, color=level_colors),
    hoverinfo="skip", showlegend=False, cliponaxis=False))

n = len(bar_open)
fig.add_trace(go.Candlestick(
    x=list(range(n)), open=bar_open, high=bar_high, low=bar_low, close=bar_close,
    increasing=dict(line=dict(color="black", width=1), fillcolor="white"),
    decreasing=dict(line=dict(color="black", width=1), fillcolor="black"),
    whiskerwidth=0, hoverinfo="skip", showlegend=False))

# red crosses
fig.add_trace(go.Scatter(
    x=x_marks_bar, y=x_marks_price, mode="markers",
    marker=dict(symbol="x-thin", size=32, line=dict(width=5, color="#EE4040")),
    hoverinfo="skip", showlegend=False))

# chart-shift triangle at top
fig.add_trace(go.Scatter(
    x=[606.6], y=[2039.5], mode="markers",
    marker=dict(symbol="triangle-down", size=13, color="#A8A8A8"),
    hoverinfo="skip", showlegend=False, cliponaxis=False))

shapes = []
for v, c, d, w in zip(level_values, level_colors, level_dash, level_width):
    shapes.append(dict(type="line", xref="paper", x0=0, x1=1, yref="y", y0=v, y1=v,
                       line=dict(color=c, width=w, dash=DASH_MAP[d]), layer="between"))
shapes.append(dict(type="line", xref="paper", x0=0, x1=1, yref="y", y0=bid_price,
                   y1=bid_price, line=dict(color="#C0C0C0", width=1), layer="between"))
shapes.append(dict(type="line", xref="paper", x0=0, x1=1, yref="y", y0=target_level,
                   y1=target_level, line=dict(color="#FF0000", width=1), layer="between"))
# outer window frame
shapes.append(dict(type="rect", xref="paper", yref="paper",
                   x0=-3.5 / 3743, x1=3834.5 / 3743, y0=-32 / 1957, y1=1960.5 / 1957,
                   line=dict(color="#D0D0D0", width=2), layer="above"))

annotations = []
box_values = level_values[:11] + [bid_price, level_values[11], level_values[12], target_level]
box_colors = level_colors[:11] + ["#000000", level_colors[11], level_colors[12], "#FF0000"]
for v, c in zip(box_values, box_colors):
    annotations.append(dict(
        x=1, xref="paper", xanchor="left", xshift=1, y=v, yref="y", yshift=-5,
        text=f"{v:.2f}", showarrow=False, bgcolor=c, borderpad=1, width=78, height=21,
        align="center", font=dict(family=FONT, size=18, color="white")))
annotations.append(dict(x=0, xref="paper", xanchor="left", xshift=5, y=1, yref="paper",
                        yanchor="top", yshift=-6, text="▼", showarrow=False,
                        font=dict(family="DejaVu Sans", size=12, color="black")))
annotations.append(dict(x=0, xref="paper", xanchor="left", xshift=27, y=1, yref="paper",
                        yanchor="top", yshift=-3, text=header_text, showarrow=False,
                        font=dict(family=FONT, size=18, color="black")))

fig.update_layout(
    width=3840, height=1996, autosize=False,
    margin=dict(l=4, r=93, t=4, b=35, pad=0),
    paper_bgcolor="white", plot_bgcolor="white",
    boxgap=0.3, hovermode=False, showlegend=False,
    shapes=shapes, annotations=annotations,
    font=dict(family=FONT, size=18, color="black"),
    xaxis=dict(
        range=[-0.375, 935.4], tickmode="array", tickvals=x_tick_bars,
        ticktext=x_tick_labels, ticks="outside", ticklen=5, tickwidth=1,
        tickcolor="black", ticklabelposition="outside right",
        tickfont=dict(family=FONT, size=18, color="black"),
        showgrid=True, gridcolor=GRID, gridwidth=1, griddash="4px,3px",
        minor=dict(dtick=16, tick0=0, showgrid=True, gridcolor=GRID, gridwidth=1,
                   griddash="4px,3px", ticks=""),
        showline=True, mirror=True, linecolor="black", linewidth=1,
        zeroline=False, rangeslider=dict(visible=False), fixedrange=True),
    yaxis=dict(
        side="right", range=[1762.3, 2040.26], tickmode="array",
        tickvals=y_tick_values, ticktext=[f"{v:.2f}" for v in y_tick_values],
        ticks="outside", ticklen=5, tickwidth=1, tickcolor="black",
        tickfont=dict(family=FONT, size=18, color="black"),
        showgrid=True, gridcolor=GRID, gridwidth=1, griddash="4px,3px",
        showline=True, mirror=True, linecolor="black", linewidth=1,
        zeroline=False, fixedrange=True),
)

fig.write_html("out.html", config={"displayModeBar": False, "staticPlot": True},
               post_script="document.body.style.margin='0';document.body.style.overflow='hidden';")
